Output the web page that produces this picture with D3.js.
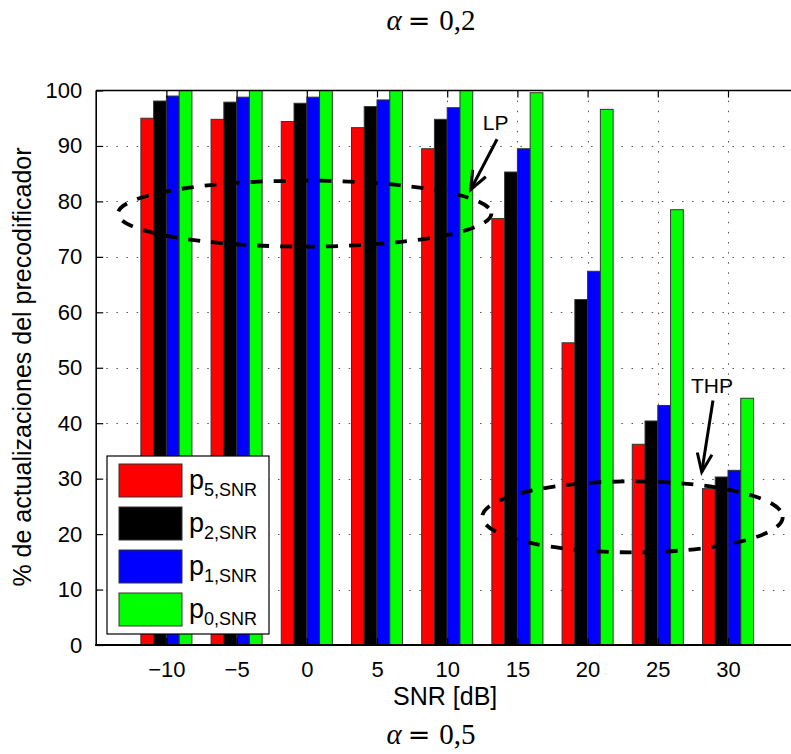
<!DOCTYPE html>
<html>
<head>
<meta charset="utf-8">
<script src="https://cdn.jsdelivr.net/npm/d3@7"></script>
<style>
  html, body { margin: 0; padding: 0; background: #fff; }
  svg { display: block; }
  text { font-family: "Liberation Sans", Arial, Helvetica, sans-serif; fill: #000; }
  .cm { font-family: "Liberation Serif", "DejaVu Serif", serif; }
  .op { font-family: "DejaVu Sans", sans-serif; }
</style>
</head>
<body>
<div id="chart"></div>
<script>
// SNR points (dB) and the share of precoder updates (%) for each threshold
const snr = [-10, -5, 0, 5, 10, 15, 20, 25, 30];
const p5 = [95.0, 94.8, 94.4, 93.3, 89.5, 76.9, 54.5, 36.2, 28.2];
const p2 = [98.1, 97.9, 97.7, 97.1, 94.8, 85.3, 62.3, 40.4, 30.3];
const p1 = [99.0, 98.8, 98.8, 98.3, 96.9, 89.5, 67.4, 43.2, 31.5];
const p0 = [100, 100, 100, 100, 100, 99.6, 96.6, 78.5, 44.5];

const seriesKeys = ["5", "2", "1", "0"];
const seriesValues = [p5, p2, p1, p0];
const seriesColors = ["#ff0000", "#000000", "#0000ff", "#00ff00"];

const xTicks = [-10, -5, 0, 5, 10, 15, 20, 25, 30];
const yTicks = [0, 10, 20, 30, 40, 50, 60, 70, 80, 90, 100];

// Highlighted regions (data units: centre SNR, centre %, half-width dB, half-height %)
const regions = [
  { name: "LP",  cx: -0.15, cy: 77.8, rx: 13.3, ry: 5.95 },
  { name: "THP", cx: 23.2,  cy: 23.1, rx: 10.7, ry: 6.4 }
];
// Callouts: label position and arrow from (x1,y1) to (x2,y2), in data units
const callouts = [
  { text: "LP",  tx: 13.45, ty: 92.8, x1: 13.55, y1: 91.2, x2: 11.67, y2: 82.1 },
  { text: "THP", tx: 28.86, ty: 45.4, x1: 28.93, y1: 44.1, x2: 28.13, y2: 31.2 }
];

(function () {
const W = 791, H = 754;
const svg = d3.select("#chart").append("svg").attr("width", W).attr("height", H);

const plotLeft = 96.2, plotTop = 90.5, plotBottom = 645;
const x = d3.scaleLinear().domain([-15, 35]).range([plotLeft, 798.2]);
const y = d3.scaleLinear().domain([0, 100]).range([plotBottom, plotTop]);

// grouped bar offsets inside each SNR slot
const groupWidth = 5 * 4 / 5.5;
const sub = d3.scaleBand().domain(seriesKeys).range([-groupWidth / 2, groupWidth / 2]);
const barW = x(sub.bandwidth()) - x(0);

// dotted grid
const grid = svg.append("g").attr("stroke", "#555").attr("stroke-width", 1)
  .attr("stroke-dasharray", "1.5 8.6");
grid.selectAll("line.h").data(yTicks.filter(d => d > 0 && d < 100)).join("line").attr("class", "h")
  .attr("x1", plotLeft).attr("x2", W).attr("y1", d => Math.round(y(d)) + 0.5).attr("y2", d => Math.round(y(d)) + 0.5);
grid.selectAll("line.v").data(xTicks).join("line").attr("class", "v")
  .attr("x1", d => Math.round(x(d)) + 0.5).attr("x2", d => Math.round(x(d)) + 0.5)
  .attr("y1", plotTop).attr("y2", plotBottom);

// bars
const rows = snr.map((s, i) => ({ snr: s, vals: seriesKeys.map((k, j) => ({ key: k, j, v: seriesValues[j][i] })) }));
svg.append("g").selectAll("g").data(rows).join("g")
  .selectAll("rect").data(r => r.vals.map(d => ({ ...d, snr: r.snr }))).join("rect")
  .attr("x", d => x(d.snr + sub(d.key)))
  .attr("width", barW)
  .attr("y", d => y(d.v))
  .attr("height", d => y(0) - y(d.v))
  .attr("fill", d => seriesColors[d.j])
  .attr("stroke", "#333").attr("stroke-width", 1);

// axes frame
const yAxis = d3.axisLeft(y).tickValues(yTicks).tickSize(-7).tickPadding(14).tickFormat(d3.format("d"));
const gy = svg.append("g").attr("transform", `translate(${plotLeft},0)`).call(yAxis);
const xAxis = d3.axisBottom(x).tickValues(xTicks).tickSize(-7).tickPadding(16)
  .tickFormat(d => d < 0 ? "\u2212" + Math.abs(d) : String(d));
const gx = svg.append("g").attr("transform", `translate(0,${plotBottom})`).call(xAxis);
const xTop = d3.axisTop(x).tickValues(xTicks).tickSize(-7).tickFormat("");
const gt = svg.append("g").attr("transform", `translate(0,${plotTop})`).call(xTop);
[gy, gx, gt].forEach(g => {
  g.select(".domain").remove();
  g.selectAll("text").attr("font-size", 22).attr("fill", "#000");
  g.selectAll(".tick line").attr("stroke", "#000").attr("stroke-width", 1.2);
});
svg.append("line").attr("x1", plotLeft).attr("x2", plotLeft).attr("y1", plotTop).attr("y2", plotBottom + 1)
  .attr("stroke", "#000").attr("stroke-width", 1.6);
svg.append("line").attr("x1", plotLeft).attr("x2", W).attr("y1", plotTop).attr("y2", plotTop)
  .attr("stroke", "#000").attr("stroke-width", 1.6);
svg.append("line").attr("x1", plotLeft - 1).attr("x2", W).attr("y1", plotBottom).attr("y2", plotBottom)
  .attr("stroke", "#000").attr("stroke-width", 2.2);

// axis titles
svg.append("text").attr("x", x(10) - 2).attr("y", 705).attr("text-anchor", "middle")
  .attr("font-size", 25).text("SNR [dB]");
svg.append("text").attr("transform", `translate(31,367) rotate(-90)`)
  .attr("text-anchor", "middle").attr("font-size", 25).text("% de actualizaciones del precodificador");

// captions above and below (math style: alpha = value)
function caption(val, yy) {
  const t = svg.append("text").attr("class", "cm").attr("x", 431).attr("y", yy)
    .attr("text-anchor", "middle").attr("font-size", 29).attr("fill", "#222");
  t.append("tspan").attr("font-style", "italic").text("\u03b1");
  t.append("tspan").attr("class", "op").attr("font-size", 27).attr("dx", 6).text("=");
  t.append("tspan").attr("dx", 9).text(val);
}
caption("0,2", 30);
caption("0,5", 744);

// dashed ellipses
svg.append("g").selectAll("ellipse").data(regions).join("ellipse")
  .attr("cx", d => x(d.cx)).attr("cy", d => y(d.cy))
  .attr("rx", d => x(d.rx) - x(0)).attr("ry", d => y(0) - y(d.ry))
  .attr("fill", "none").attr("stroke", "#000").attr("stroke-width", 3.8)
  .attr("stroke-dasharray", "12 11");

// callouts with open arrowheads
const cg = svg.append("g").selectAll("g").data(callouts).join("g");
cg.append("text").attr("x", d => x(d.tx)).attr("y", d => y(d.ty)).attr("text-anchor", "middle")
  .attr("font-size", 21).text(d => d.text);
cg.append("line").attr("x1", d => x(d.x1)).attr("y1", d => y(d.y1)).attr("x2", d => x(d.x2)).attr("y2", d => y(d.y2))
  .attr("stroke", "#000").attr("stroke-width", 3);
cg.append("path").attr("fill", "none").attr("stroke", "#000").attr("stroke-width", 3)
  .attr("d", d => {
    const X1 = x(d.x1), Y1 = y(d.y1), X2 = x(d.x2), Y2 = y(d.y2);
    const a = Math.atan2(Y2 - Y1, X2 - X1), L = 20, s = 0.38;
    const q1 = [X2 - L * Math.cos(a - s), Y2 - L * Math.sin(a - s)];
    const q2 = [X2 - L * Math.cos(a + s), Y2 - L * Math.sin(a + s)];
    return `M${q1}L${X2},${Y2}L${q2}`;
  });

// legend
const lg = svg.append("g").attr("transform", "translate(107,456)");
lg.append("rect").attr("width", 162).attr("height", 178).attr("fill", "#fff")
  .attr("stroke", "#000").attr("stroke-width", 1.2);
const items = lg.selectAll("g").data(seriesKeys).join("g")
  .attr("transform", (d, i) => `translate(12,${8 + i * 43})`);
items.append("rect").attr("width", 63).attr("height", 33)
  .attr("fill", (d, i) => seriesColors[i]).attr("stroke", "#333").attr("stroke-width", 1);
const lt = items.append("text").attr("x", 70).attr("y", 25);
lt.append("tspan").attr("font-size", 27).text("p");
lt.append("tspan").attr("font-size", 18).attr("dy", 7).text(d => d + ",SNR");
})();
</script>
</body>
</html>
